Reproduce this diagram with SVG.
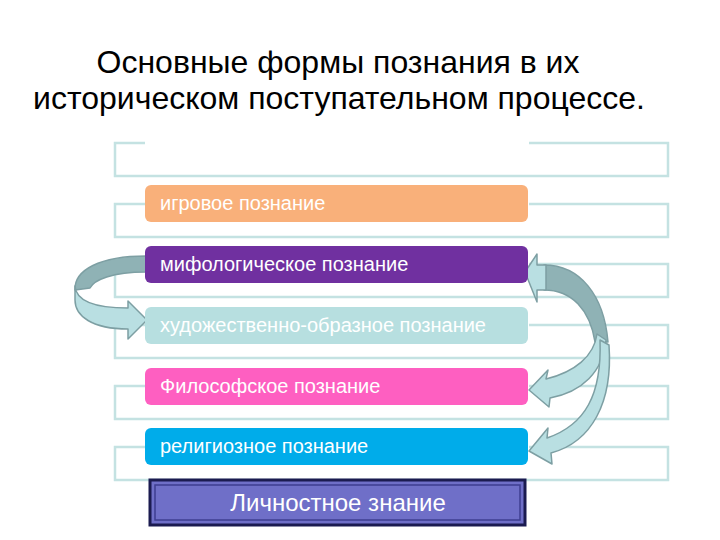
<svg xmlns="http://www.w3.org/2000/svg" width="720" height="540" viewBox="0 0 720 540">
<style>
.title{font-family:"Liberation Sans",Arial,sans-serif;font-size:32px;fill:#000;text-anchor:middle}
.frame{fill:none;stroke:#c4e2e2;stroke-width:2.5}
.lbl{font-family:"Liberation Sans",Arial,sans-serif;font-size:20px;fill:#fff}
.arrL{fill:#b9dfe2;stroke:#7d9fa3;stroke-width:1.5;stroke-linejoin:round}
.arrD{fill:#8fb2b5;stroke:#7d9fa3;stroke-width:1.5;stroke-linejoin:round}
</style>
<rect width="720" height="540" fill="#fff"/>
<text class="title" x="338" y="73">Основные формы познания в их</text>
<text class="title" x="339" y="109">историческом поступательном процессе.</text>

<g id="frames">
<path class="frame" d="M145 143 H115 V176 H668 V143 H529"/>
<path class="frame" d="M145 204 H115 V237 H668 V204 H529"/>
<path class="frame" d="M145 264 H115 V297 H668 V264 H529"/>
<path class="frame" d="M145 325 H115 V358 H668 V325 H529"/>
<path class="frame" d="M145 386 H115 V419 H668 V386 H529"/>
<path class="frame" d="M145 447 H115 V480 H668 V447 H529"/>
</g>

<g id="connectors">
<path class="arrD" d="M146 256 C100 256 74 270 75 290 L90 288 C94 280 112 272 146 272 Z"/>
<path class="arrL" d="M75 286 C76 301 95 308 128 308 L128 301 L147 320 L128 339 L128 329 C92 329 75 316 75 300 Z"/>
<path class="arrD" d="M544 265 C580 265 604 295 608 342 L595 342 C590 310 572 290 544 290 Z"/>
<path class="arrL" d="M525 272 L537 254 L537 265 L546 265 L546 290 L537 290 L537 302 Z"/>
<path class="arrL" d="M529 390 L548 370 L546 379 C575 372 594 356 597 334 L606 340 C603 372 582 392 550 398 L549 407 Z"/>
<path class="arrL" d="M529 451 L548 428 L547 438 C585 425 602 395 600 340 L609 345 C613 402 592 442 551 453 L552 464 Z"/>
</g>

<g id="n1"><rect x="145" y="185" width="383" height="37" rx="6" fill="#f9b07a"/><text class="lbl" x="160" y="210">игровое познание</text></g>
<g id="n2"><rect x="145" y="246" width="383" height="37" rx="6" fill="#7030a0"/><text class="lbl" x="160" y="271">мифологическое познание</text></g>
<g id="n3"><rect x="145" y="307" width="383" height="37" rx="6" fill="#b7dfe0"/><text class="lbl" x="160" y="332">художественно-образное познание</text></g>
<g id="n4"><rect x="145" y="368" width="383" height="37" rx="6" fill="#fe5fc1"/><text class="lbl" x="160" y="393">Философское познание</text></g>
<g id="n5"><rect x="145" y="428" width="383" height="37" rx="6" fill="#00acea"/><text class="lbl" x="160" y="453">религиозное познание</text></g>
<g id="n6">
<rect x="150" y="480" width="375" height="45" fill="#6f6fc8" stroke="#1b1b50" stroke-width="3"/>
<rect x="155" y="485" width="365" height="35" fill="none" stroke="#3e3e90" stroke-width="1.5"/>
<text x="338" y="511" font-family="Liberation Sans,Arial,sans-serif" font-size="24" fill="#fff" text-anchor="middle">Личностное знание</text>
</g>
</svg>
